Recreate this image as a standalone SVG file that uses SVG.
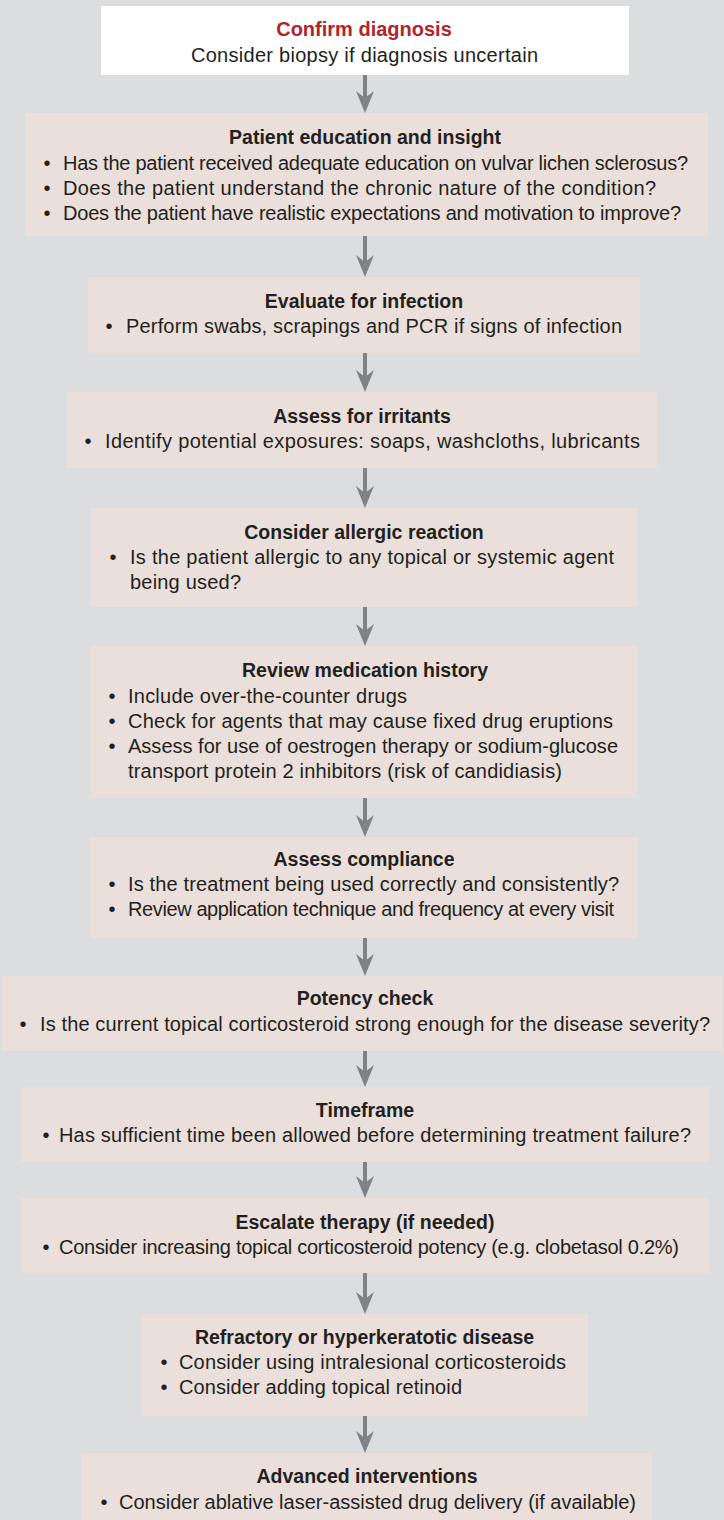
<svg xmlns="http://www.w3.org/2000/svg" width="724" height="1520" viewBox="0 0 724 1520">
<style>
.bg{fill:#dcdddf}
.box{fill:#ebdfdb}
.white{fill:#ffffff}
text{font-family:"Liberation Sans",Arial,sans-serif;fill:#231f20}
.t{font-weight:bold;font-size:19.5px;text-anchor:middle}
.red{fill:#b2242b;font-size:20px}
.b{font-size:20px}
.c{font-size:20px;text-anchor:middle}
.arrow{stroke:#808285;stroke-width:4;fill:none}
</style>
<defs>
<marker id="ah" viewBox="0 -9 22 18" refX="14" refY="0" markerWidth="22" markerHeight="18" markerUnits="userSpaceOnUse" orient="auto">
<path d="M0,-9 L22,0 L0,9 L7,0 Z" fill="#808285"/>
</marker>
</defs>
<rect class="bg" x="0" y="0" width="724" height="1520"/>
<g id="connectors">
<line class="arrow" x1="365" y1="75" x2="365" y2="105" marker-end="url(#ah)"/>
<line class="arrow" x1="365" y1="236" x2="365" y2="269" marker-end="url(#ah)"/>
<line class="arrow" x1="365" y1="353" x2="365" y2="384" marker-end="url(#ah)"/>
<line class="arrow" x1="365" y1="468" x2="365" y2="500" marker-end="url(#ah)"/>
<line class="arrow" x1="365" y1="607" x2="365" y2="638" marker-end="url(#ah)"/>
<line class="arrow" x1="365" y1="798" x2="365" y2="829" marker-end="url(#ah)"/>
<line class="arrow" x1="365" y1="938" x2="365" y2="968" marker-end="url(#ah)"/>
<line class="arrow" x1="365" y1="1051" x2="365" y2="1079" marker-end="url(#ah)"/>
<line class="arrow" x1="365" y1="1162" x2="365" y2="1190" marker-end="url(#ah)"/>
<line class="arrow" x1="365" y1="1273" x2="365" y2="1306" marker-end="url(#ah)"/>
<line class="arrow" x1="365" y1="1416" x2="365" y2="1445" marker-end="url(#ah)"/>
</g>
<g id="confirm">
<rect class="white" x="101" y="6" width="528" height="69"/>
<text class="t red" x="364" y="36">Confirm diagnosis</text>
<text class="c" x="364.5" y="62" textLength="347">Consider biopsy if diagnosis uncertain</text>
</g>
<g id="education">
<rect class="box" x="25" y="113" width="683" height="123"/>
<text class="t" x="365" y="144">Patient education and insight</text>
<text class="b" x="43.5" y="170">•</text><text class="b" x="63" y="170" textLength="625">Has the patient received adequate education on vulvar lichen sclerosus?</text>
<text class="b" x="43.5" y="195">•</text><text class="b" x="63" y="195" textLength="593">Does the patient understand the chronic nature of the condition?</text>
<text class="b" x="43.5" y="220">•</text><text class="b" x="63" y="220" textLength="618">Does the patient have realistic expectations and motivation to improve?</text>
</g>
<g id="infection">
<rect class="box" x="88" y="277" width="552" height="76"/>
<text class="t" x="364" y="308">Evaluate for infection</text>
<text class="b" x="105.5" y="333">•</text><text class="b" x="126" y="333" textLength="496">Perform swabs, scrapings and PCR if signs of infection</text>
</g>
<g id="irritants">
<rect class="box" x="67" y="392" width="590" height="76"/>
<text class="t" x="362" y="423">Assess for irritants</text>
<text class="b" x="84.5" y="448">•</text><text class="b" x="105" y="448" textLength="535">Identify potential exposures: soaps, washcloths, lubricants</text>
</g>
<g id="allergic">
<rect class="box" x="91" y="508" width="546" height="99"/>
<text class="t" x="364" y="539">Consider allergic reaction</text>
<text class="b" x="109.5" y="564">•</text><text class="b" x="130" y="564" textLength="484">Is the patient allergic to any topical or systemic agent</text>
<text class="b" x="130" y="589" textLength="111">being used?</text>
</g>
<g id="medication">
<rect class="box" x="90" y="646" width="548" height="152"/>
<text class="t" x="365" y="677">Review medication history</text>
<text class="b" x="108.5" y="703">•</text><text class="b" x="128" y="703" textLength="279">Include over-the-counter drugs</text>
<text class="b" x="108.5" y="728">•</text><text class="b" x="128" y="728" textLength="485">Check for agents that may cause fixed drug eruptions</text>
<text class="b" x="108.5" y="753">•</text><text class="b" x="128" y="753" textLength="490">Assess for use of oestrogen therapy or sodium-glucose</text>
<text class="b" x="128" y="778" textLength="434">transport protein 2 inhibitors (risk of candidiasis)</text>
</g>
<g id="compliance">
<rect class="box" x="90" y="837" width="548" height="101"/>
<text class="t" x="364" y="866">Assess compliance</text>
<text class="b" x="108.5" y="891">•</text><text class="b" x="128" y="891" textLength="491">Is the treatment being used correctly and consistently?</text>
<text class="b" x="108.5" y="916">•</text><text class="b" x="128" y="916" textLength="486">Review application technique and frequency at every visit</text>
</g>
<g id="potency">
<rect class="box" x="2" y="976" width="720" height="75"/>
<text class="t" x="365" y="1005">Potency check</text>
<text class="b" x="19.5" y="1031">•</text><text class="b" x="40" y="1031" textLength="670">Is the current topical corticosteroid strong enough for the disease severity?</text>
</g>
<g id="timeframe">
<rect class="box" x="21" y="1087" width="688" height="75"/>
<text class="t" x="365" y="1117">Timeframe</text>
<text class="b" x="42.5" y="1142">•</text><text class="b" x="59" y="1142" textLength="632">Has sufficient time been allowed before determining treatment failure?</text>
</g>
<g id="escalate">
<rect class="box" x="21" y="1198" width="688" height="75"/>
<text class="t" x="365" y="1229">Escalate therapy (if needed)</text>
<text class="b" x="42.5" y="1254">•</text><text class="b" x="59" y="1254" textLength="620">Consider increasing topical corticosteroid potency (e.g. clobetasol 0.2%)</text>
</g>
<g id="refractory">
<rect class="box" x="141" y="1314" width="447" height="102"/>
<text class="t" x="364.5" y="1344">Refractory or hyperkeratotic disease</text>
<text class="b" x="160.5" y="1369">•</text><text class="b" x="179" y="1369" textLength="387">Consider using intralesional corticosteroids</text>
<text class="b" x="160.5" y="1394">•</text><text class="b" x="179" y="1394" textLength="283">Consider adding topical retinoid</text>
</g>
<g id="advanced">
<rect class="box" x="81" y="1453" width="571" height="67"/>
<text class="t" x="367" y="1483">Advanced interventions</text>
<text class="b" x="100.5" y="1509">•</text><text class="b" x="119" y="1509" textLength="517">Consider ablative laser-assisted drug delivery (if available)</text>
</g>
</svg>
